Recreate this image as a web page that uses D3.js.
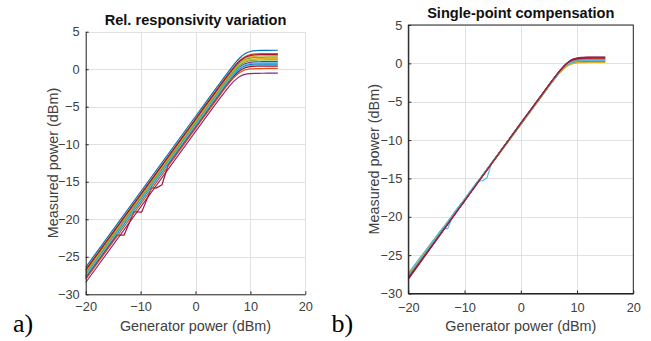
<!DOCTYPE html>
<html>
<head>
<meta charset="utf-8">
<script src="https://cdn.jsdelivr.net/npm/d3@7"></script>
<style>
  body { margin: 0; background: #fff; }
  svg text { font-family: "Liberation Sans", Arial, sans-serif; }
</style>
</head>
<body>
<div id="chart"></div>
<script>
// generator power grid (dBm) shared by the smooth curves
var genPower = [-20, 0, 4, 6, 7, 8, 9, 10, 11, 12, 13, 15];

var xTicks = [-20, -10, 0, 10, 20],
    yTicks = [-30, -25, -20, -15, -10, -5, 0, 5];

var lineColors = ["#0072BD", "#D95319", "#EDB120", "#7E2F8E", "#77AC30", "#4DBEEE", "#A2142F"];

// a) measured power per sensor
var measuredA = [
  [-26.4, -6.3, -2.3, -0.32, 0.62, 1.46, 2.06, 2.36, 2.48, 2.51, 2.52, 2.53],
  [-26.7, -6.6, -2.6, -0.63, 0.31, 1.12, 1.67, 1.94, 2.04, 2.07, 2.08, 2.08],
  [-26.9, -6.8, -2.8, -0.83, 0.09, 0.88, 1.40, 1.65, 1.73, 1.76, 1.77, 1.77],
  [-28.43, -8.33, -4.33, -2.41, -1.58, -0.99, -0.69, -0.58, -0.55, -0.54, -0.53, -0.53],
  [-27.02, -6.92, -2.92, -0.95, -0.03, 0.74, 1.25, 1.48, 1.57, 1.59, 1.6, 1.6],
  [-27.7, -7.6, -3.6, -1.65, -0.76, -0.07, 0.33, 0.50, 0.56, 0.57, 0.58, 0.58],
  null,
  [-27.6, -7.5, -3.5, -1.55, -0.66, 0.05, 0.46, 0.64, 0.70, 0.71, 0.72, 0.72],
  [-28.01, -7.91, -3.91, -1.97, -1.11, -0.46, -0.10, 0.04, 0.08, 0.09, 0.1, 0.1],
  [-27.14, -7.04, -3.04, -1.08, -0.16, 0.60, 1.09, 1.31, 1.39, 1.41, 1.42, 1.42],
  [-27.41, -7.31, -3.31, -1.35, -0.45, 0.28, 0.73, 0.92, 0.98, 1.0, 1.01, 1.01],
  [-27.26, -7.16, -3.16, -1.2, -0.29, 0.46, 0.93, 1.14, 1.21, 1.23, 1.24, 1.24],
  [-27.52, -7.42, -3.42, -1.47, -0.57, 0.15, 0.58, 0.76, 0.82, 0.84, 0.85, 0.85],
  [-26.78, -6.68, -2.68, -0.71, 0.22, 1.02, 1.56, 1.82, 1.91, 1.94, 1.95, 1.95]
];
// the stepped curve in a)
var stepPowerA = [-20, -14.3, -13.0, -11.2, -9.8, -8.0, -7.2, -6.1, -5.0, 0, 4, 5, 6, 6.5, 7, 7.5, 8, 8.5, 9, 9.5, 10, 11, 12, 13, 15];
var stepMeasuredA = [-27.88, -22.1, -22.1, -19.0, -19.05, -15.8, -15.85, -15.4, -12.8, -7.78, -3.78, -2.8, -1.83, -1.38, -0.94, -0.57, -0.24, -0.01, 0.17, 0.27, 0.34, 0.40, 0.41, 0.42, 0.42];
var stepIndexA = 6;

// b) after single-point compensation
var measuredB = [
  [-27.45, -7.93, -3.94, -1.97, -1.08, -0.36, 0.07, 0.26, 0.32, 0.34, 0.35, 0.35],
  [-27.6, -7.87, -3.88, -1.91, -1.0, -0.25, 0.25, 0.45, 0.52, 0.54, 0.55, 0.55],
  [-27.4, -8.0, -4.01, -2.06, -1.18, -0.5, -0.11, 0.05, 0.10, 0.11, 0.12, 0.12],
  [-27.95, -7.82, -3.83, -1.85, -0.93, -0.15, 0.39, 0.60, 0.68, 0.71, 0.72, 0.72],
  [-27.7, -7.9, -3.91, -1.94, -1.04, -0.3, 0.17, 0.36, 0.42, 0.44, 0.45, 0.45],
  null,
  [-28.15, -7.79, -3.8, -1.82, -0.89, -0.10, 0.47, 0.70, 0.78, 0.81, 0.82, 0.82],
  [-27.5, -7.96, -3.97, -2.01, -1.12, -0.42, 0.0, 0.17, 0.23, 0.24, 0.25, 0.25],
  [-27.85, -7.855, -3.87, -1.89, -0.98, -0.22, 0.29, 0.50, 0.57, 0.59, 0.6, 0.6],
  [-27.45, -7.98, -3.99, -2.03, -1.15, -0.46, -0.06, 0.10, 0.16, 0.17, 0.18, 0.18],
  [-28.05, -7.8, -3.81, -1.83, -0.91, -0.12, 0.43, 0.66, 0.74, 0.77, 0.78, 0.78],
  [-27.75, -7.885, -3.9, -1.92, -1.02, -0.27, 0.21, 0.40, 0.47, 0.49, 0.5, 0.5],
  [-27.55, -7.915, -3.93, -1.96, -1.06, -0.33, 0.13, 0.31, 0.37, 0.39, 0.4, 0.4],
  [-28.0, -7.825, -3.84, -1.86, -0.94, -0.16, 0.37, 0.59, 0.67, 0.69, 0.7, 0.7]
];
var stepPowerB = [-20, -13.95, -13.0, -11.9, -10.6, -10.2, -9.6, -7.6, -6.8, -6.0, -5.2, 0, 4, 5, 6, 6.5, 7, 7.5, 8, 8.5, 9, 9.5, 10, 11, 12, 13, 15];
var stepMeasuredB = [-27.38, -21.5, -21.55, -19.5, -18.25, -18.3, -17.28, -15.33, -15.3, -14.9, -13.0, -7.945, -3.95, -2.96, -1.99, -1.53, -1.10, -0.72, -0.39, -0.15, 0.04, 0.15, 0.22, 0.28, 0.29, 0.3, 0.3];
var stepIndexB = 5;

var width = 651, height = 341;

var svg = d3.select("#chart").append("svg")
    .attr("width", width)
    .attr("height", height);

function buildSeries(rows, stepX, stepY, stepIndex) {
  return rows.map(function(row, i) {
    if (i == stepIndex) return {step: true, pts: d3.zip(stepX, stepY)};
    return {step: false, pts: d3.zip(genPower, row)};
  });
}

function drawPanel(opts) {
  var x = d3.scaleLinear().domain([-20, 20]).range([opts.left, opts.left + opts.w]);
  var y = d3.scaleLinear().domain([-30, 5]).range([opts.top + opts.h, opts.top]);

  var g = svg.append("g");

  // grid
  g.append("g")
      .attr("stroke", "#e1e1e1")
      .attr("stroke-width", 1)
    .selectAll("line")
    .data(xTicks)
    .join("line")
      .attr("x1", d => Math.round(x(d)) + 0.5)
      .attr("x2", d => Math.round(x(d)) + 0.5)
      .attr("y1", opts.top)
      .attr("y2", opts.top + opts.h);
  g.append("g")
      .attr("stroke", "#e1e1e1")
      .attr("stroke-width", 1)
    .selectAll("line")
    .data(yTicks)
    .join("line")
      .attr("x1", opts.left)
      .attr("x2", opts.left + opts.w)
      .attr("y1", d => Math.round(y(d)) + 0.5)
      .attr("y2", d => Math.round(y(d)) + 0.5);

  // curves
  var smooth = d3.line()
      .x(d => x(d[0]))
      .y(d => y(d[1]))
      .curve(d3.curveMonotoneX);
  var straight = d3.line()
      .x(d => x(d[0]))
      .y(d => y(d[1]));

  g.append("g")
    .selectAll("path")
    .data(opts.series)
    .join("path")
      .attr("fill", "none")
      .attr("stroke", (d, i) => lineColors[i % lineColors.length])
      .attr("stroke-width", 1.2)
      .attr("stroke-linejoin", "round")
      .attr("d", d => d.step ? straight(d.pts) : smooth(d.pts));

  // axes
  var xAxis = d3.axisBottom(x)
      .tickValues(xTicks)
      .tickSizeInner(-3)
      .tickSizeOuter(0)
      .tickPadding(opts.xPad);
  var yAxis = d3.axisLeft(y)
      .tickValues(yTicks)
      .tickSizeInner(-3)
      .tickSizeOuter(0)
      .tickPadding(6);

  var gx = g.append("g")
      .attr("transform", "translate(0," + (opts.top + opts.h) + ")")
      .call(xAxis);
  var gy = g.append("g")
      .attr("transform", "translate(" + opts.left + ",0)")
      .call(yAxis);

  [gx, gy].forEach(function(ax) {
    ax.select(".domain").attr("stroke", "#262626");
    ax.selectAll(".tick line").attr("stroke", "#262626");
    ax.selectAll(".tick text")
        .attr("fill", "#404040")
        .style("font-size", "12.8px");
  });

  if (opts.box) {
    g.append("rect")
        .attr("x", opts.left)
        .attr("y", opts.top)
        .attr("width", opts.w)
        .attr("height", opts.h)
        .attr("fill", "none")
        .attr("stroke", "#262626");
  }

  g.append("text")
      .attr("x", opts.left + opts.w / 2)
      .attr("y", opts.titleY)
      .attr("text-anchor", "middle")
      .attr("font-weight", "bold")
      .attr("fill", "#111")
      .style("font-size", "14.6px")
      .text(opts.title);

  g.append("text")
      .attr("x", opts.left + opts.w / 2)
      .attr("y", 330.5)
      .attr("text-anchor", "middle")
      .attr("fill", "#404040")
      .style("font-size", "14.4px")
      .text("Generator power (dBm)");

  g.append("text")
      .attr("transform", "translate(" + opts.yLabelX + "," + (opts.top + opts.h / 2) + ") rotate(-90)")
      .attr("text-anchor", "middle")
      .attr("fill", "#404040")
      .style("font-size", "14.4px")
      .text("Measured power (dBm)");

  g.append("text")
      .attr("x", opts.tagX)
      .attr("y", 332)
      .attr("fill", "#000")
      .style("font-family", "'Liberation Serif', 'Times New Roman', serif")
      .style("font-size", "26px")
      .text(opts.tag);
}

drawPanel({
  left: 85.7, top: 31.7, w: 219.6, h: 262.6,
  series: buildSeries(measuredA, stepPowerA, stepMeasuredA, stepIndexA),
  box: false,
  title: "Rel. responsivity variation",
  titleY: 24.5,
  yLabelX: 57.5,
  xPad: 8,
  tag: "a)",
  tagX: 13
});

drawPanel({
  left: 408.3, top: 25, w: 225, h: 268.5,
  series: buildSeries(measuredB, stepPowerB, stepMeasuredB, stepIndexB),
  box: true,
  title: "Single-point compensation",
  titleY: 18,
  yLabelX: 379,
  xPad: 9,
  tag: "b)",
  tagX: 331.5
});
</script>
</body>
</html>
